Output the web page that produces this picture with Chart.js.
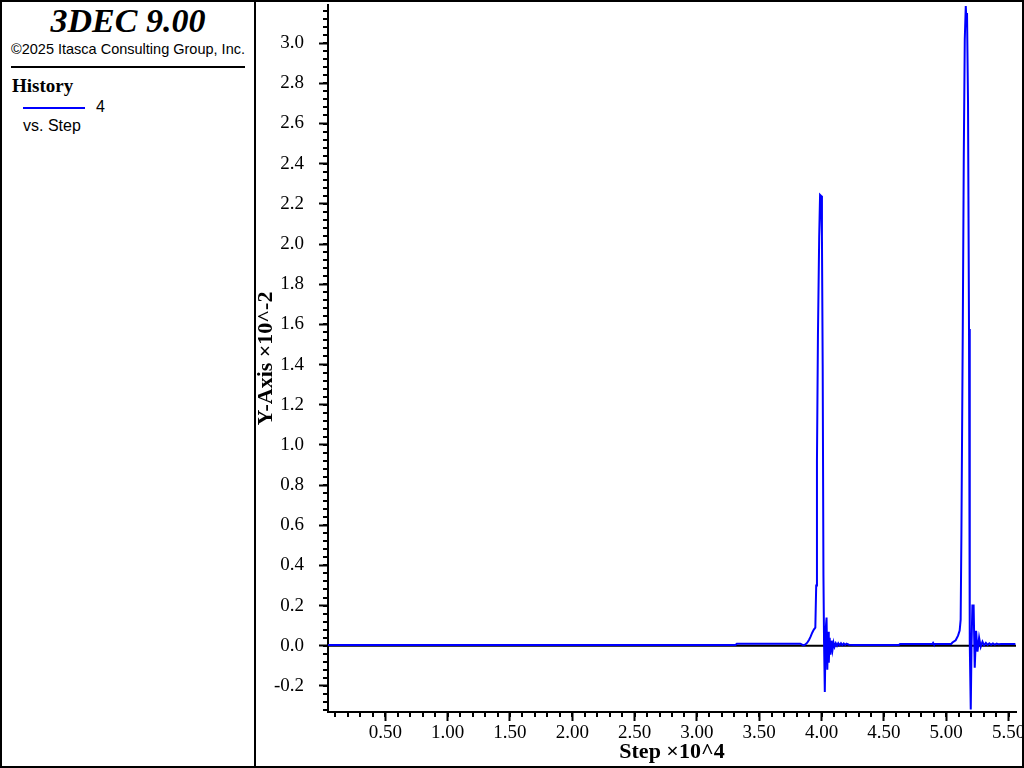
<!DOCTYPE html>
<html>
<head>
<meta charset="UTF-8">
<title>3DEC 9.00 History</title>
<script src="https://cdn.jsdelivr.net/npm/chart.js@4.4.0/dist/chart.umd.min.js"></script>
<style>
  body { margin: 0; background: #fff; }
  .abs { position: absolute; white-space: nowrap; color: #000; }
  #frame { left: 0; top: 0; width: 1024px; height: 768px; box-sizing: border-box; border: 2px solid #000; }
  #divider { left: 254px; top: 0; width: 2px; height: 768px; background: #000; }
  #product { left: 0; width: 256px; top: 4px; text-align: center; font: italic bold 34px/34px "Liberation Serif", serif; }
  #copyright { left: 0; width: 256px; top: 42px; text-align: center; font: 14.5px/14.5px "Liberation Sans", Arial, sans-serif; }
  #rule { left: 11px; top: 66px; width: 234px; height: 2px; background: #000; }
  #history { left: 12px; top: 76px; font: bold 19px/19px "Liberation Serif", serif; }
  #swatch { left: 23px; top: 107px; width: 62px; height: 2px; background: #0000ff; }
  #seriesName { left: 96px; top: 99px; font: 16px/16px "Liberation Sans", Arial, sans-serif; }
  #versus { left: 23px; top: 118px; font: 16px/16px "Liberation Sans", Arial, sans-serif; }
  #plot { left: 256px; top: 2px; width: 766px; height: 764px; }
</style>
</head>
<body>
<div class="abs" id="frame"></div>
<div class="abs" id="divider"></div>
<div class="abs" id="product">3DEC 9.00</div>
<div class="abs" id="copyright">©2025 Itasca Consulting Group, Inc.</div>
<div class="abs" id="rule"></div>
<div class="abs" id="history">History</div>
<div class="abs" id="swatch"></div>
<div class="abs" id="seriesName">4</div>
<div class="abs" id="versus">vs. Step</div>
<div class="abs" id="plot"><canvas id="myChart"></canvas></div>
<script>
// step (x 10^4) and history 4 value (x 10^-2)
var stepX = [
    0.04, 0.5, 1.0, 1.5, 2.0, 2.5, 3.0, 3.31, 3.32, 3.6, 3.83, 3.855, 3.87, 3.885, 3.90, 3.912,
    3.925, 3.938, 3.950, 3.957, 3.963, 3.971, 3.981, 3.988, 3.996, 4.003, 4.009, 4.015, 4.020,
    4.026, 4.033, 4.040, 4.046, 4.052, 4.058, 4.065, 4.072, 4.080, 4.088, 4.096, 4.104, 4.114,
    4.124, 4.134, 4.145, 4.156, 4.167, 4.178, 4.19, 4.20, 4.22, 4.26, 4.4, 4.62, 4.63, 4.89,
    4.895, 4.90, 5.04, 5.05, 5.076, 5.095, 5.108, 5.116, 5.122, 5.133, 5.141, 5.149, 5.157,
    5.163, 5.167, 5.175, 5.183, 5.189, 5.197, 5.203, 5.210, 5.220, 5.229, 5.240, 5.251, 5.264,
    5.277, 5.291, 5.304, 5.318, 5.332, 5.346, 5.36, 5.375, 5.39, 5.405, 5.42, 5.44, 5.5, 5.555
];
var historyY = [
    0.004, 0.004, 0.004, 0.004, 0.004, 0.004, 0.004, 0.004, 0.01, 0.01, 0.01, 0.002, 0.006, 0.015, 0.03, 0.045,
    0.065, 0.08, 0.09, 0.30, 0.92, 1.55, 2.04, 2.245, 2.24, 2.04, 1.40, 0.355, 0.02,
    -0.23, 0.08, 0.14, -0.12, 0.07, -0.085, 0.04, -0.045, 0.025, -0.02, 0.015, -0.005, 0.012,
    0.0, 0.012, 0.002, 0.012, 0.003, 0.011, 0.004, 0.01, 0.005, 0.004, 0.004, 0.004, 0.009, 0.009,
    0.014, 0.009, 0.009, 0.016, 0.027, 0.05, 0.075, 0.13, 0.555, 1.577, 2.438, 3.02, 3.185,
    3.10, 3.15, 2.71, 1.577, 0.016, -0.317, 0.0, 0.20, 0.20, -0.11, 0.074, -0.03, 0.04,
    -0.005, 0.02, 0.002, 0.014, 0.004, 0.012, 0.005, 0.011, 0.006, 0.011, 0.007, 0.009, 0.008, 0.008
];

var xTickValues = [0.5, 1.0, 1.5, 2.0, 2.5, 3.0, 3.5, 4.0, 4.5, 5.0, 5.5];
var yTickValues = [-0.2, 0.0, 0.2, 0.4, 0.6, 0.8, 1.0, 1.2, 1.4, 1.6, 1.8, 2.0, 2.2, 2.4, 2.6, 2.8, 3.0];
var xMin = 0.04, xMax = 5.56, xMinorStep = 0.1;
var yMin = -0.33, yMax = 3.19, yMinorStep = 0.04;

var serif = '"Liberation Serif", "Times New Roman", serif';

// short unlabelled ticks between the labelled ones
const minorTicks = {
    id: 'minorTicks',
    afterDraw(chart) {
        const ctx = chart.ctx;
        const xs = chart.scales.x;
        const ys = chart.scales.y;
        ctx.save();
        ctx.strokeStyle = '#000';
        ctx.lineWidth = 2;
        ctx.beginPath();
        for (var i = Math.ceil(xMin / xMinorStep); i * xMinorStep <= xMax; i++) {
            var px = Math.round(xs.getPixelForValue(i * xMinorStep));
            ctx.moveTo(px, ys.bottom);
            ctx.lineTo(px, ys.bottom + 5);
        }
        for (var j = Math.ceil(yMin / yMinorStep); j * yMinorStep <= yMax; j++) {
            var py = Math.round(ys.getPixelForValue(j * yMinorStep));
            ctx.moveTo(xs.left, py);
            ctx.lineTo(xs.left - 5, py);
        }
        ctx.stroke();
        ctx.restore();
    }
};

var points = [];
for (var k = 0; k < stepX.length; k++) {
    points.push({ x: stepX[k], y: historyY[k] });
}

new Chart(document.getElementById('myChart'), {
    type: 'line',
    data: {
        datasets: [{
            label: '4',
            data: points,
            borderColor: '#0000ff',
            borderWidth: 2,
            pointRadius: 0,
            tension: 0,
            order: 0
        }, {
            label: 'zero',
            data: [{ x: xMin, y: 0 }, { x: xMax, y: 0 }],
            borderColor: '#000',
            borderWidth: 2,
            pointRadius: 0,
            order: 1
        }]
    },
    options: {
        responsive: true,
        maintainAspectRatio: false,
        animation: false,
        devicePixelRatio: 1,
        layout: { padding: { top: 3, right: 6, left: 0, bottom: 0 } },
        plugins: {
            legend: { display: false },
            tooltip: { enabled: false }
        },
        scales: {
            x: {
                type: 'linear',
                min: xMin,
                max: xMax,
                afterBuildTicks: function (s) { s.ticks = xTickValues.map(v => ({ value: v })); },
                afterFit: function (s) { s.height = 54; s.paddingLeft = 0; s.paddingRight = 0; },
                ticks: {
                    callback: v => v.toFixed(2),
                    color: '#000',
                    font: { family: serif, size: 19 },
                    padding: 1,
                    maxRotation: 0,
                    autoSkip: false
                },
                grid: { drawOnChartArea: false, tickLength: 9, tickWidth: 2, tickColor: '#000' },
                border: { color: '#000', width: 2 },
                title: {
                    display: true,
                    text: 'Step ×10^4',
                    color: '#000',
                    font: { family: serif, size: 22, weight: 'bold', lineHeight: 1 },
                    padding: { top: 0, bottom: 3 }
                }
            },
            y: {
                type: 'linear',
                min: yMin,
                max: yMax,
                afterBuildTicks: function (s) { s.ticks = yTickValues.map(v => ({ value: v })); },
                afterFit: function (s) { s.width = 72; s.paddingTop = 0; s.paddingBottom = 0; },
                ticks: {
                    callback: v => v.toFixed(1),
                    color: '#000',
                    font: { family: serif, size: 19 },
                    padding: 15,
                    autoSkip: false
                },
                grid: { drawOnChartArea: false, tickLength: 9, tickWidth: 2, tickColor: '#000' },
                border: { color: '#000', width: 2 },
                title: {
                    display: true,
                    text: 'Y-Axis ×10^-2',
                    color: '#000',
                    font: { family: serif, size: 22, weight: 'bold', lineHeight: 0.9 },
                    padding: { top: 0, bottom: 0 }
                }
            }
        }
    },
    plugins: [minorTicks]
});
</script>
</body>
</html>
